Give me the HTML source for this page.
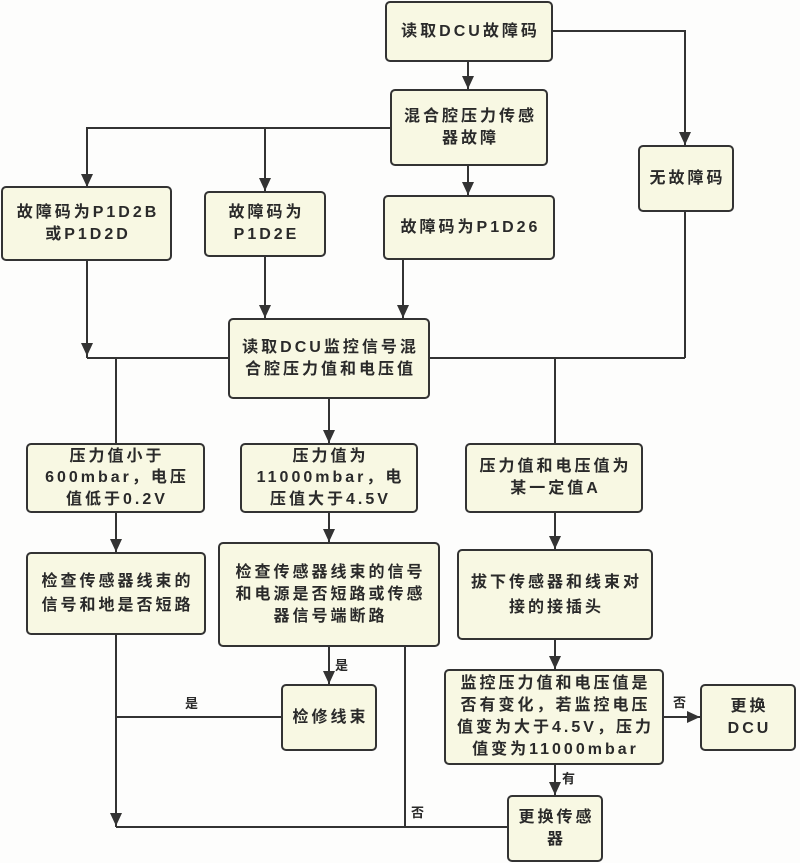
<!DOCTYPE html>
<html>
<head>
<meta charset="utf-8">
<style>
  html,body{margin:0;padding:0;background:#fdfdfc;}
  #wrap{position:relative;width:800px;height:863px;overflow:hidden;background:#fdfdfc;}
  svg{position:absolute;left:0;top:0;}
  .b{position:absolute;box-sizing:border-box;border:2px solid #333;border-radius:5px;background:#f8f8e3;
     display:flex;align-items:center;justify-content:center;text-align:center;
     font-family:"Liberation Sans","Noto Sans CJK SC",sans-serif;font-weight:bold;font-size:16px;
     line-height:22px;letter-spacing:3px;color:#2a2a2a;white-space:nowrap;padding-left:3px;}
  .l{position:absolute;font-family:"Liberation Sans","Noto Sans CJK SC",sans-serif;font-weight:bold;
     font-size:13px;line-height:14px;color:#2a2a2a;}
</style>
</head>
<body>
<div id="wrap">
<svg width="800" height="863" viewBox="0 0 800 863">
  <g stroke="#333" stroke-width="2" fill="none">
    <polyline points="553,31 685,31 685,145"/>
    <line x1="468" y1="62" x2="468" y2="89"/>
    <polyline points="390,128 87,128 87,187"/>
    <line x1="265" y1="128" x2="265" y2="191"/>
    <line x1="468" y1="166" x2="468" y2="195"/>
    <line x1="87" y1="261" x2="87" y2="358"/>
    <line x1="87" y1="358" x2="228" y2="358"/>
    <line x1="265" y1="257" x2="265" y2="318"/>
    <line x1="403" y1="260" x2="403" y2="318"/>
    <line x1="430" y1="358" x2="685" y2="358"/>
    <line x1="685" y1="212" x2="685" y2="358"/>
    <line x1="116" y1="358" x2="116" y2="443"/>
    <line x1="329" y1="399" x2="329" y2="443"/>
    <line x1="555" y1="358" x2="555" y2="443"/>
    <line x1="116" y1="513" x2="116" y2="552"/>
    <line x1="329" y1="513" x2="329" y2="542"/>
    <line x1="555" y1="513" x2="555" y2="549"/>
    <line x1="555" y1="640" x2="555" y2="669"/>
    <line x1="664" y1="717" x2="700" y2="717"/>
    <line x1="329" y1="647" x2="329" y2="684"/>
    <line x1="281" y1="717" x2="116" y2="717"/>
    <line x1="116" y1="635" x2="116" y2="827"/>
    <line x1="116" y1="827" x2="507" y2="827"/>
    <line x1="405" y1="647" x2="405" y2="827"/>
    <line x1="555" y1="765" x2="555" y2="795"/>
  </g>
  <g fill="#333">
    <polygon points="679,132 691,132 685,145"/>
    <polygon points="462,76 474,76 468,89"/>
    <polygon points="81,174 93,174 87,187"/>
    <polygon points="259,178 271,178 265,191"/>
    <polygon points="462,182 474,182 468,195"/>
    <polygon points="81,343 93,343 87,356"/>
    <polygon points="259,305 271,305 265,318"/>
    <polygon points="397,305 409,305 403,318"/>
    <polygon points="323,430 335,430 329,443"/>
    <polygon points="110,539 122,539 116,552"/>
    <polygon points="323,529 335,529 329,542"/>
    <polygon points="549,536 561,536 555,549"/>
    <polygon points="549,656 561,656 555,669"/>
    <polygon points="687,711 687,723 700,717"/>
    <polygon points="323,671 335,671 329,684"/>
    <polygon points="110,813 122,813 116,826"/>
    <polygon points="549,782 561,782 555,795"/>
  </g>
</svg>

<div class="b" style="left:385px;top:1px;width:168px;height:61px;">读取DCU故障码</div>
<div class="b" style="left:390px;top:89px;width:158px;height:77px;">混合腔压力传感<br>器故障</div>
<div class="b" style="left:638px;top:145px;width:96px;height:67px;">无故障码</div>
<div class="b" style="left:1px;top:186px;width:171px;height:75px;">故障码为P1D2B<br>或P1D2D</div>
<div class="b" style="left:204px;top:191px;width:122px;height:66px;">故障码为<br>P1D2E</div>
<div class="b" style="left:383px;top:195px;width:172px;height:65px;">故障码为P1D26</div>
<div class="b" style="left:228px;top:318px;width:202px;height:81px;">读取DCU监控信号混<br>合腔压力值和电压值</div>
<div class="b" style="left:26px;top:443px;width:179px;height:70px;line-height:21.5px;">压力值小于<br>600mbar，电压<br>值低于0.2V</div>
<div class="b" style="left:240px;top:443px;width:178px;height:70px;line-height:21.5px;">压力值为<br>11000mbar，电<br>压值大于4.5V</div>
<div class="b" style="left:465px;top:443px;width:178px;height:70px;">压力值和电压值为<br>某一定值A</div>
<div class="b" style="left:26px;top:552px;width:180px;height:83px;line-height:24px;">检查传感器线束的<br>信号和地是否短路</div>
<div class="b" style="left:218px;top:542px;width:222px;height:105px;">检查传感器线束的信号<br>和电源是否短路或传感<br>器信号端断路</div>
<div class="b" style="left:457px;top:549px;width:196px;height:91px;line-height:25px;">拔下传感器和线束对<br>接的接插头</div>
<div class="b" style="left:444px;top:669px;width:220px;height:96px;">监控压力值和电压值是<br>否有变化，若监控电压<br>值变为大于4.5V，压力<br>值变为11000mbar</div>
<div class="b" style="left:700px;top:684px;width:96px;height:67px;">更换<br>DCU</div>
<div class="b" style="left:281px;top:684px;width:96px;height:67px;">检修线束</div>
<div class="b" style="left:507px;top:795px;width:96px;height:67px;">更换传感<br>器</div>

<div class="l" style="left:673px;top:696px;">否</div>
<div class="l" style="left:335px;top:659px;">是</div>
<div class="l" style="left:185px;top:697px;">是</div>
<div class="l" style="left:411px;top:806px;">否</div>
<div class="l" style="left:562px;top:772px;">有</div>
</div>
</body>
</html>
